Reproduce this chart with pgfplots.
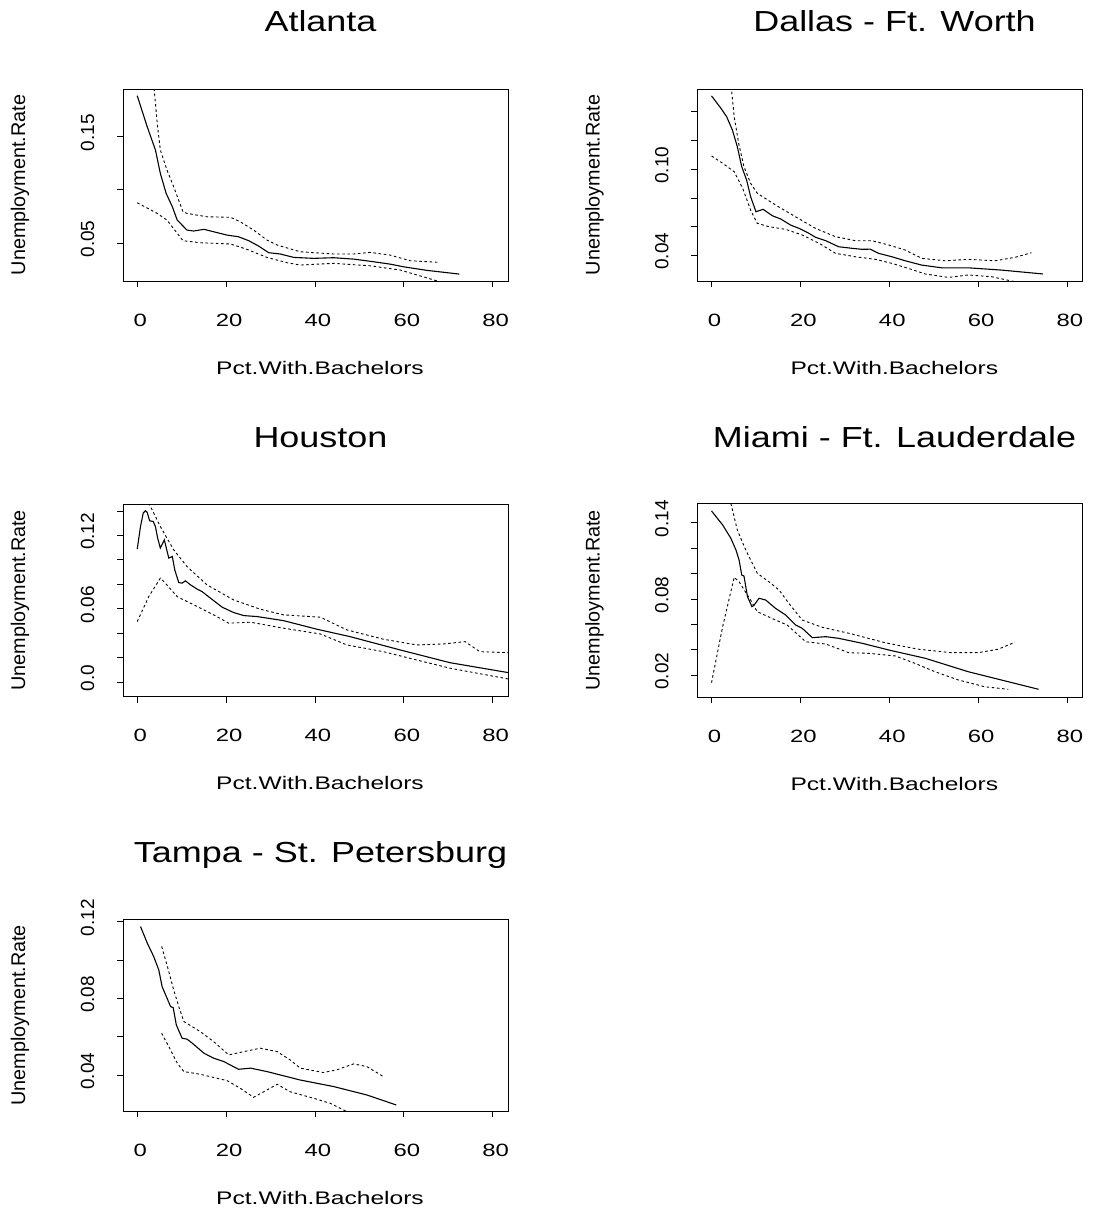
\documentclass[border=0pt]{standalone}
\usepackage{fontspec}
\setmainfont{Liberation Sans}
\newfontfamily\ftitle{Liberation Sans}[FakeStretch=1.24]
\newfontfamily\fxtick{Liberation Sans}[FakeStretch=1.34]
\newfontfamily\fxlab{Liberation Sans}[FakeStretch=1.35]
\newfontfamily\fytick{Liberation Sans}
\usepackage{pgfplots}
\pgfplotsset{compat=1.18}

\pgfplotsset{
  panel/.style={
    anchor=south west,
    scale only axis, width=385pt,
    xmin=-3.2, xmax=83.45,
    xtick={0,20,40,60,80}, xticklabels={0,20,40,60,80},
    tick align=outside, major tick length=6pt,
    xtick pos=left, ytick pos=left,
    axis line style={black, line width=0.9pt},
    tick style={black, line width=0.9pt},
    xticklabel style={font=\fxtick\fontsize{17.8}{17.8}\selectfont,
      anchor=base, inner sep=0pt, yshift=-39pt, xshift=3pt},
    yticklabel style={font=\fytick\fontsize{19}{19}\selectfont,
      xshift=-23pt, yshift=4pt, rotate=90, anchor=base, inner sep=0pt},
  },
  fit/.style={black, line width=1.1pt, no markers},
  band/.style={black, line width=0.9pt, dash pattern=on 2.6pt off 2.6pt, no markers},
}

\newcommand{\paneltitle}[2]{\node[font=\ftitle\fontsize{29}{29}\selectfont, anchor=base, inner sep=0pt] at #1 {#2};}
\newcommand{\xlab}[1]{\node[font=\fxlab\fontsize{18.2}{18.2}\selectfont, anchor=base, inner sep=0pt] at #1 {Pct.With.Bachelors};}
\newcommand{\ylab}[1]{\node[font=\fontsize{19.8}{19.8}\selectfont, rotate=90, anchor=base, inner sep=0pt] at #1 {Unemployment.Rate};}

\begin{document}
\begin{tikzpicture}
\useasboundingbox (0pt,0pt) rectangle (1097pt,-1212pt);

% Atlanta
\begin{axis}[panel, at={(123pt,-281pt)}, height=192pt,
  ymin=0.0143, ymax=0.1949,
  ytick={0.05,0.10,0.15}, yticklabels={0.05,,0.15}]
\addplot[fit] coordinates {(0,0.1886)(2.25,0.1594)(4.1,0.1375)(5.2,0.1156)(6.5,0.0968)(7.9,0.0842)(9.0,0.0716)(11.2,0.0622)(12.7,0.0613)(15.0,0.0629)(20.2,0.0575)(22.8,0.0559)(25.1,0.0522)(27.3,0.0472)(29.6,0.0409)(32.2,0.0397)(35.2,0.0365)(39.7,0.0356)(44.2,0.0362)(48.7,0.0349)(53.2,0.0324)(56.9,0.0302)(59.9,0.0277)(65.2,0.0243)(72.5,0.0208)};
\addplot[band] coordinates {(3.5,0.21)(4.5,0.1626)(5.2,0.1375)(6.7,0.1187)(8.2,0.1030)(10.3,0.0794)(11.2,0.0779)(15.7,0.0747)(21.0,0.0742)(23.2,0.0700)(26.2,0.0622)(29.2,0.0528)(31.5,0.0481)(36.7,0.0418)(44.2,0.0397)(48.7,0.0397)(52.4,0.0412)(56.9,0.0387)(61.4,0.0334)(68.0,0.0318)};
\addplot[band] coordinates {(0,0.0879)(4.5,0.0779)(6.7,0.0716)(10.3,0.0522)(14.2,0.0503)(21.0,0.0491)(24.7,0.0441)(29.2,0.0365)(33.7,0.0315)(36.7,0.0293)(44.2,0.0309)(52.4,0.0286)(59.2,0.0246)(67.4,0.0145)(68,0.013)};
\end{axis}

% Dallas - Ft. Worth
\begin{axis}[panel, at={(697.3pt,-281pt)}, height=192pt,
  ymin=0.0221, ymax=0.156,
  ytick={0.04,0.06,0.08,0.10,0.12,0.14}, yticklabels={0.04,,,0.10,,}]
\addplot[fit] coordinates {(0,0.1512)(2.1,0.1426)(3.4,0.1367)(4.7,0.1274)(5.8,0.1158)(6.8,0.1018)(7.9,0.0925)(8.8,0.0809)(10.0,0.0704)(11.6,0.0721)(13.7,0.0676)(15.6,0.0653)(17.8,0.0611)(19.7,0.0588)(21.9,0.0554)(23.4,0.0526)(25.7,0.0502)(28.6,0.0460)(31.6,0.0449)(33.9,0.0442)(35.7,0.0443)(37.6,0.0414)(40.6,0.0390)(43.6,0.0362)(47.3,0.0332)(51.8,0.0313)(57.8,0.0313)(65.3,0.0297)(74.6,0.0270)};
\addplot[band] coordinates {(4.2,0.165)(5.1,0.1367)(6.1,0.1182)(7.3,0.1018)(8.8,0.0902)(10.3,0.0833)(14.4,0.0751)(18.9,0.0669)(23.4,0.0588)(27.9,0.0530)(32.4,0.0502)(36.1,0.0502)(39.9,0.0472)(43.6,0.0437)(47.3,0.0379)(52.6,0.0362)(57.8,0.0372)(63.8,0.0362)(68.3,0.0386)(72.0,0.0418)};
\addplot[band] coordinates {(0,0.1093)(2.5,0.1042)(5.1,0.0983)(7.0,0.0868)(8.8,0.0716)(10.3,0.0623)(12.9,0.0600)(16.7,0.0581)(20.4,0.0542)(24.2,0.0484)(27.9,0.0414)(32.4,0.0390)(36.9,0.0372)(40.6,0.0344)(44.3,0.0309)(48.1,0.0270)(53.3,0.0246)(57.8,0.0263)(63.0,0.0251)(68.3,0.0216)(70,0.020)};
\end{axis}

% Houston
\begin{axis}[panel, at={(123pt,-696.7pt)}, height=192.7pt,
  ymin=-0.0118, ymax=0.1457,
  ytick={0,0.02,0.04,0.06,0.08,0.10,0.12,0.14}, yticklabels={0.0,,,0.06,,,0.12,}]
\addplot[fit] coordinates {(0,0.1088)(0.74,0.1273)(1.35,0.1383)(1.87,0.1402)(2.25,0.1388)(2.8,0.1320)(3.6,0.1314)(4.1,0.1273)(4.6,0.1178)(5.2,0.1097)(6.1,0.1164)(7.1,0.1015)(7.9,0.1028)(8.45,0.0919)(9.35,0.0815)(10.1,0.0810)(10.85,0.0829)(12.0,0.0796)(13.5,0.0761)(14.6,0.0741)(16.5,0.0687)(19.1,0.0614)(21.7,0.0570)(24.0,0.0545)(27.0,0.0537)(32.9,0.0504)(40.4,0.0434)(47.9,0.0373)(59.2,0.0264)(70.4,0.0160)(83.5,0.0079)};
\addplot[band] coordinates {(2.6,0.1465)(5.2,0.1273)(8.2,0.1083)(11.2,0.0946)(15.7,0.0796)(21.7,0.0673)(27.7,0.0597)(32.9,0.0551)(41.2,0.0532)(47.2,0.0428)(55.4,0.0352)(62.9,0.0305)(68.9,0.0313)(73.8,0.0332)(77.1,0.0250)(83.5,0.0242)};
\addplot[band] coordinates {(0,0.0496)(2.6,0.0700)(5.2,0.0851)(6.0,0.0823)(9.0,0.0700)(14.2,0.0606)(17.2,0.0551)(20.6,0.0483)(25.5,0.0491)(32.9,0.0442)(41.2,0.0395)(47.2,0.0305)(55.4,0.0250)(62.9,0.0182)(70.4,0.0115)(83.5,0.0027)};
\end{axis}

% Miami - Ft. Lauderdale
\begin{axis}[panel, at={(697.3pt,-697.3pt)}, height=194pt,
  ymin=0.0027, ymax=0.1553,
  ytick={0.02,0.04,0.06,0.08,0.10,0.12,0.14}, yticklabels={0.02,,,0.08,,,0.14}]
\addplot[fit] coordinates {(0,0.1493)(2.5,0.1383)(4.35,0.1278)(5.5,0.1186)(6.2,0.1107)(6.8,0.0989)(7.3,0.0981)(8.1,0.0818)(9.1,0.0740)(9.6,0.0753)(10.7,0.0806)(12.2,0.0792)(14.4,0.0727)(16.7,0.0674)(18.9,0.0596)(20.4,0.0570)(22.7,0.0496)(25.7,0.0504)(28.6,0.0491)(33.9,0.0452)(39.9,0.0399)(48.1,0.0334)(57.8,0.0228)(73.6,0.0090)};
\addplot[band] coordinates {(4.35,0.1553)(5.8,0.1343)(7.7,0.1186)(10.3,0.1003)(12.9,0.0936)(15.2,0.0871)(17.4,0.0766)(20.4,0.0635)(24.9,0.0578)(31.6,0.0525)(39.1,0.0456)(46.6,0.0405)(54.0,0.0378)(60.0,0.0378)(64.5,0.0405)(68.3,0.0460)};
\addplot[band] coordinates {(0,0.0142)(2.5,0.0582)(5.1,0.0971)(6.2,0.0936)(8.8,0.0792)(10.3,0.0700)(14.4,0.0635)(17.0,0.0596)(21.2,0.0464)(25.7,0.0446)(30.9,0.0378)(35.4,0.0373)(41.4,0.0352)(45.8,0.0294)(50.3,0.0228)(55.6,0.0163)(61.5,0.0110)(66.8,0.0090)};
\end{axis}

% Tampa - St. Petersburg
\begin{axis}[panel, at={(123pt,-1111.3pt)}, height=192.3pt,
  ymin=0.0212, ymax=0.1214,
  ytick={0.04,0.06,0.08,0.10,0.12}, yticklabels={0.04,,0.08,,0.12}]
\addplot[fit] coordinates {(0.74,0.1175)(2.25,0.1089)(3.7,0.1019)(4.85,0.0949)(5.6,0.0862)(6.7,0.0802)(7.5,0.0758)(8.1,0.0752)(8.8,0.0662)(10.1,0.0593)(11.2,0.0588)(12.4,0.0567)(15.0,0.0515)(17.2,0.0489)(19.5,0.0471)(22.8,0.0431)(25.5,0.0437)(29.2,0.0419)(36.7,0.0375)(44.2,0.0341)(51.7,0.0297)(58.3,0.0245)};
\addplot[band] coordinates {(5.5,0.1071)(6.7,0.0975)(8.2,0.0845)(9.35,0.0758)(10.5,0.0680)(14.2,0.0627)(17.2,0.0575)(20.6,0.0506)(24.0,0.0523)(27.7,0.0541)(31.5,0.0523)(34.4,0.0480)(36.7,0.0437)(41.9,0.0414)(44.9,0.0428)(48.7,0.0459)(51.7,0.0445)(55.4,0.0393)};
\addplot[band] coordinates {(5.5,0.0619)(7.5,0.0532)(9.0,0.0463)(10.5,0.0419)(14.2,0.0405)(20.2,0.0372)(23.2,0.0332)(26.2,0.0285)(29.2,0.0323)(31.5,0.0353)(34.4,0.0314)(39.7,0.0280)(43.4,0.0254)(47.2,0.0210)(48,0.020)};
\end{axis}

% panel titles
\paneltitle{(320.5pt,-31.7pt)}{Atlanta}
\paneltitle{(894.5pt,-31.7pt)}{Dallas - Ft. Worth}
\paneltitle{(320.5pt,-447pt)}{Houston}
\paneltitle{(894.5pt,-447pt)}{Miami - Ft. Lauderdale}
\paneltitle{(320.5pt,-862pt)}{Tampa - St. Petersburg}

% x-axis labels
\xlab{(320pt,-374pt)}
\xlab{(894.3pt,-374pt)}
\xlab{(320pt,-789.7pt)}
\xlab{(894.3pt,-790.3pt)}
\xlab{(320pt,-1204.3pt)}

% y-axis labels
\ylab{(25.2pt,-185pt)}
\ylab{(599.5pt,-185pt)}
\ylab{(25.2pt,-600.3pt)}
\ylab{(599.5pt,-600.3pt)}
\ylab{(25.2pt,-1015.2pt)}
\end{tikzpicture}
\end{document}
